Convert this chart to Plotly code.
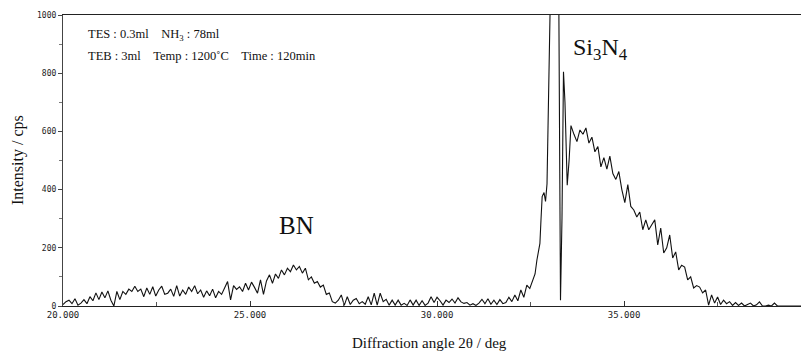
import plotly.graph_objects as go

# --- Segment A: 20.00 -> 32.48 deg, scan step 0.08 deg (background + BN hump)
segA_start = 20.0
segA_step = 0.08
segA_cps = [
    5, 15, 20, 8, 25, 3, 10, 22, 8, 32,
    18, 45, 22, 48, 28, 52, 20, 0, 50, 22,
    50, 40, 58, 50, 68, 50, 58, 32, 62, 40,
    66, 34, 55, 68, 40, 44, 58, 33, 70, 34,
    55, 40, 65, 50, 70, 42, 55, 30, 52, 35,
    58, 28, 50, 40, 62, 84, 21, 70, 57, 66,
    50, 78, 55, 82, 64, 44, 90, 40, 86, 107,
    78, 110, 95, 124, 107, 130, 118, 141, 124, 136,
    113, 130, 90, 100, 78, 84, 65, 72, 40, 45,
    15, 10, 20, 38, 2, 32, 5, 20, 26, 8,
    15, 6, 32, 4, 44, 3, 44, 15, 23, 3,
    20, 3, 20, 3, 9, 2, 21, 3, 20, 2,
    18, 2, 10, 32, 12, 30, 18, 3, 20, 12,
    24, 10, 28, 14, 9, 12, 3, 8, 2, 10,
    23, 8, 25, 6, 20, 5, 22, 8, 12, 30,
    15, 38, 18, 55, 30, 72, 60,
]

# --- Segment B: Si3N4 main reflection (irregularly read points)
segB_deg = [32.57, 32.62, 32.67, 32.75, 32.78, 32.81, 32.86, 32.90, 32.94, 32.98,
            33.02, 33.05, 33.14, 33.24, 33.28, 33.30, 33.34, 33.38, 33.42, 33.48,
            33.53, 33.58]
segB_cps = [90, 110, 158, 215, 300, 376, 390, 359, 420, 700,
            1000, 1400, 2500, 1400, 600, 20, 300, 805, 700, 415,
            500, 620]

# --- Segment C: 33.66 deg onwards, scan step 0.08 deg (Si3N4 tail)
segC_start = 33.66
segC_step = 0.08
segC_cps = [
    590, 565, 605, 590, 612, 560, 580, 530, 548, 478,
    510, 470, 515, 455, 435, 462, 400, 355, 417, 342,
    330, 306, 323, 262, 296, 262, 279, 296, 210, 268,
    182, 200, 244, 165, 186, 124, 140, 134, 90, 100,
    62, 70, 65, 45, 55, 3, 38, 10, 31, 5,
    20, 8, 15, 2, 12, 2, 10, 0, 5, 10,
    0, 4, 14, 0, 0, 3, 0, 10, 0, 0,
    0, 0, 0, 0, 0, 0, 0, 0,
]

two_theta = ([segA_start + segA_step * i for i in range(len(segA_cps))]
             + segB_deg
             + [segC_start + segC_step * i for i in range(len(segC_cps))])
intensity = segA_cps + segB_cps + segC_cps

x_ticks = [20, 25, 30, 35]
x_tick_labels = ["20.000", "25.000", "30.000", "35.000"]
y_ticks = [0, 200, 400, 600, 800, 1000]
y_tick_labels = ["0", "200", "400", "600", "800", "1000"]

fig = go.Figure()
fig.add_trace(go.Scatter(
    x=two_theta, y=intensity, mode="lines",
    line=dict(color="#111111", width=1.1),
    showlegend=False, hoverinfo="skip",
))

serif = "Liberation Serif"
mono = "DejaVu Sans Mono"

fig.update_layout(
    width=801, height=353,
    margin=dict(l=63, r=0, t=15, b=47),
    paper_bgcolor="white", plot_bgcolor="white",
    xaxis=dict(
        range=[20.0, 39.73], showgrid=False, zeroline=False,
        showline=True, linecolor="#222222", linewidth=1.2, mirror=True,
        tickvals=x_ticks, ticktext=x_tick_labels,
        ticks="inside", ticklen=5, tickcolor="#333333",
        minor=dict(tickvals=[22.5, 27.5, 32.5, 37.5], ticks="inside", ticklen=4, tickcolor="#555555"),
        tickfont=dict(family=mono, size=9, color="#222222"),
    ),
    yaxis=dict(
        range=[0, 1000], showgrid=False, zeroline=False,
        showline=True, linecolor="#444444", linewidth=1.2, mirror=False,
        tickvals=y_ticks, ticktext=y_tick_labels,
        ticks="outside", ticklen=4, tickcolor="#444444",
        minor=dict(tickvals=[100, 300, 500, 700, 900], ticks="outside", ticklen=3, tickcolor="#777777"),
        tickfont=dict(family=mono, size=8, color="#222222"),
    ),
)

W = 738.0
H = 291.0
def px(xp):
    return (xp - 63) / W
def py(yp):
    return (306 - yp) / H

sp = "&nbsp;" * 4
annos = [
    dict(text="TES : 0.3ml" + sp + "NH<sub>3</sub> : 78ml", x=px(86), y=py(35),
         xanchor="left", yanchor="middle", font=dict(family=serif, size=12.5, color="#111")),
    dict(text="TEB : 3ml" + sp + "Temp : 1200˚C" + sp + "Time : 120min", x=px(86), y=py(56),
         xanchor="left", yanchor="middle", font=dict(family=serif, size=12.5, color="#111")),
    dict(text="BN", x=px(296), y=py(225), xanchor="center", yanchor="middle",
         font=dict(family=serif, size=25, color="#111")),
    dict(text="Si<sub>3</sub>N<sub>4</sub>", x=px(600), y=py(49), xanchor="center", yanchor="middle",
         font=dict(family=serif, size=24, color="#111")),
    dict(text="Intensity / cps", x=px(18), y=py(160), xanchor="center", yanchor="middle",
         textangle=-90, font=dict(family=serif, size=16, color="#111")),
    dict(text="Diffraction angle 2θ / deg", x=px(429), y=py(343), xanchor="center", yanchor="middle",
         font=dict(family=serif, size=15, color="#111")),
]
for a in annos:
    a.update(xref="paper", yref="paper", showarrow=False)
fig.update_layout(annotations=annos)

fig.write_html("out.html")
